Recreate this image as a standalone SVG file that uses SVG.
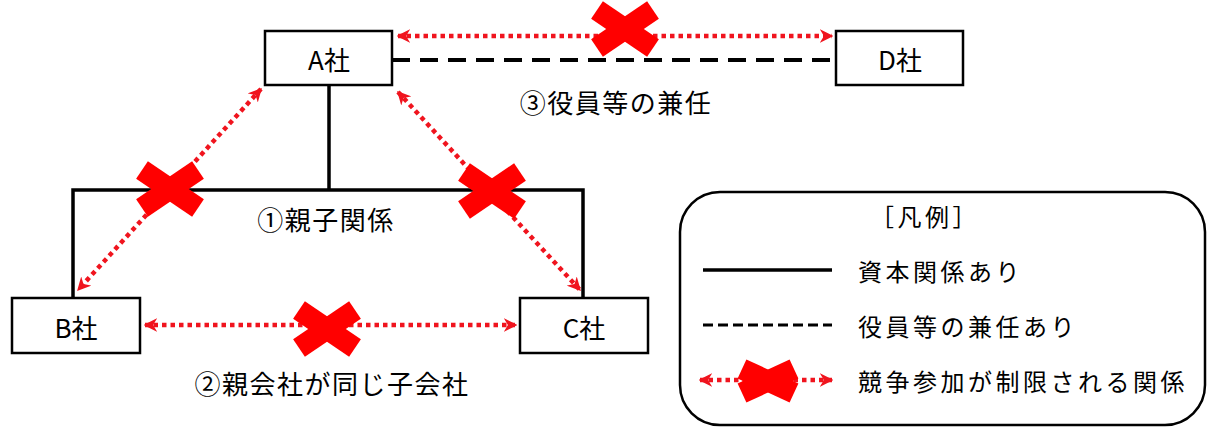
<svg xmlns="http://www.w3.org/2000/svg" width="1211" height="428" viewBox="0 0 1211 428">
<style>
.box{fill:#fff;stroke:#000;stroke-width:2.5}
.t{font-family:"Noto Sans CJK JP","Noto Sans",sans-serif;fill:#000}
.node{font-size:26px;text-anchor:middle;dominant-baseline:central}
.lbl{font-size:26px;letter-spacing:1.5px;text-anchor:middle;dominant-baseline:central}
.leg{font-size:24px;letter-spacing:3.5px;dominant-baseline:central}
.solid{stroke:#000;stroke-width:3.5;fill:none}
.dash{stroke:#000;stroke-width:4;stroke-dasharray:18 10;fill:none}
.red{stroke:#f0141e;stroke-width:4.5;stroke-dasharray:4.5 4;fill:none;marker-start:url(#ah);marker-end:url(#ah)}
.x{stroke:#ff0000;stroke-width:21;stroke-linecap:butt}
</style>
<defs>
<marker id="ah" viewBox="0 0 10 10" refX="9" refY="5" markerWidth="3" markerHeight="3" orient="auto-start-reverse" markerUnits="strokeWidth">
<path d="M0,0 L10,5 L0,10 L3,5 Z" fill="#f0141e"/>
</marker>
<g id="xmark">
<line class="x" x1="-28" y1="-19" x2="28" y2="19"/>
<line class="x" x1="-28" y1="19" x2="28" y2="-19"/>
</g>
</defs>
<rect width="1211" height="428" fill="#fff"/>
<g id="connectors">
<path class="solid" d="M329,85 V190 M73,298 V190 H583 V298"/>
<line class="dash" x1="392" y1="60" x2="836" y2="60"/>
<line class="red" x1="398" y1="36" x2="832" y2="36"/>
<line class="red" x1="261" y1="89" x2="78" y2="290"/>
<line class="red" x1="398" y1="92" x2="580" y2="290"/>
<line class="red" x1="145" y1="325" x2="516" y2="325"/>
<use href="#xmark" x="625" y="29"/>
<use href="#xmark" x="170" y="189"/>
<use href="#xmark" x="492" y="191"/>
<use href="#xmark" x="327" y="329"/>
</g>
<g id="nodeA"><rect class="box" x="265" y="31" width="127" height="54"/><text class="t node" x="329" y="58">A社</text></g>
<g id="nodeD"><rect class="box" x="836" y="31" width="127" height="54"/><text class="t node" x="900" y="58">D社</text></g>
<g id="nodeB"><rect class="box" x="12" y="298" width="128" height="55"/><text class="t node" x="76" y="326">B社</text></g>
<g id="nodeC"><rect class="box" x="520" y="298" width="128" height="55"/><text class="t node" x="584" y="326">C社</text></g>
<g id="labels">
<text class="t lbl" x="616" y="101">③役員等の兼任</text>
<text class="t lbl" x="326" y="218">①親子関係</text>
<text class="t lbl" x="332" y="382">②親会社が同じ子会社</text>
</g>
<g id="legend">
<rect x="680" y="192" width="525" height="233" rx="40" fill="#fff" stroke="#000" stroke-width="2.5"/>
<text class="t leg" x="925" y="215" text-anchor="middle" letter-spacing="4">［凡例］</text>
<line class="solid" x1="703" y1="270" x2="832" y2="270" stroke-width="3"/>
<text class="t leg" x="858" y="270">資本関係あり</text>
<line x1="703" y1="325" x2="832" y2="325" stroke="#000" stroke-width="3" stroke-dasharray="10 5"/>
<text class="t leg" x="858" y="325">役員等の兼任あり</text>
<line class="red" x1="700" y1="380" x2="832" y2="380" stroke-width="4"/>
<g transform="translate(768,381)">
<line class="x" x1="-26" y1="-12" x2="26" y2="12" stroke-width="22"/>
<line class="x" x1="-26" y1="12" x2="26" y2="-12" stroke-width="22"/>
</g>
<text class="t leg" x="858" y="380">競争参加が制限される関係</text>
</g>
</svg>
